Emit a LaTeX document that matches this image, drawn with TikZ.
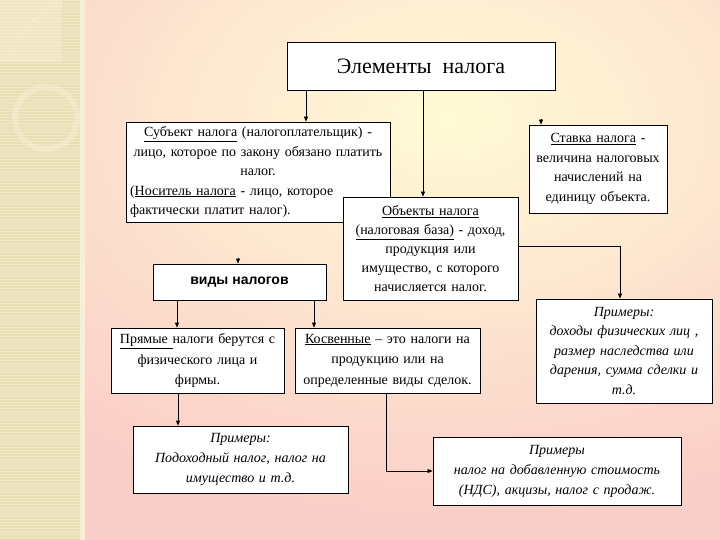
\documentclass[tikz,border=0pt]{standalone}
\usepackage{fontspec}
\setmainfont{Liberation Serif}
\setsansfont{Liberation Sans}
\usetikzlibrary{arrows.meta,calc}
\definecolor{bgpink}{RGB}{250,206,200}
\definecolor{bgyellow}{RGB}{255,251,214}
\definecolor{strip}{RGB}{234,222,182}
\definecolor{stripline}{RGB}{242,232,198}
\definecolor{stripwhite}{RGB}{248,240,214}
\tikzset{
  box/.style={draw=black, fill=white, line width=0.8pt, inner sep=0pt, align=center},
  txt/.style={font=\fontsize{14}{19.5}\selectfont},
  itx/.style={font=\fontsize{14}{19.5}\selectfont\itshape},
  arr/.style={draw=black, line width=0.8pt, -{Triangle[length=5pt,width=4pt]}}
}
\begin{document}
\begin{tikzpicture}[x=1pt,y=-1pt]
\useasboundingbox (0,0) rectangle (720,540);
% background
\fill[bgpink] (0,0) rectangle (720,540);
\begin{scope}
  \clip (84,0) rectangle (720,540);
  \shade[inner color=bgyellow, outer color=bgpink] (-150,-280) rectangle (1050,520);
\end{scope}
\fill[strip] (0,0) rectangle (80,540);
\foreach \yy in {0,3,...,540} {\draw[stripline, line width=0.6pt] (0,\yy) -- (80,\yy);}
\fill[stripwhite] (80,0) rectangle (85,540);
\fill[stripwhite, opacity=0.5] (0,0) rectangle (62,62);
\draw[stripwhite, line width=1.2pt, opacity=0.7] (5,60) .. controls (20,30) and (40,10) .. (62,2);
\draw[stripwhite, line width=6pt, opacity=0.55] (46,118) circle (31);
% boxes
\node[box, minimum width=268, minimum height=48, font=\fontsize{22}{24}\selectfont] (title) at (421,66) {Элементы\ \ налога};
\node[box, txt, minimum width=264, minimum height=100, text width=256, align=left] (subj) at (258,172)
  {{\centering \underline{Субъект налога} (налогоплательщик) -\\ лицо, которое по закону обязано платить\\ налог.\par}
   (\underline{Носитель налога} - лицо, которое\\ фактически платит налог).};
\node[box, txt, minimum width=138, minimum height=88, text width=134] (stav) at (598,169)
  {\underline{Ставка налога} -\\ величина налоговых\\ начислений на\\ единицу объекта.};
\node[box, txt, minimum width=175, minimum height=103, text width=170, font=\fontsize{14}{19}\selectfont] (obj) at (430.5,248.5)
  {\underline{Объекты налога}\\ \underline{(налоговая база)} - доход,\\ продукция или\\ имущество, с которого\\ начисляется налог.};
\node[box, minimum width=173, minimum height=36, font=\sffamily\bfseries\fontsize{14}{16}\selectfont] (vid) at (239.5,282) {виды налогов};
\node[box, itx, minimum width=176, minimum height=104, text width=172] (pr1) at (624,351)
  {Примеры:\\ доходы физических лиц ,\\ размер наследства или\\ дарения, сумма сделки и\\ т.д.};
\node[box, txt, minimum width=173, minimum height=65, text width=169, font=\fontsize{14}{20.5}\selectfont] (pryam) at (197.5,360.5)
  {\underline{Прямые }налоги берутся с\\ физического лица и\\ фирмы.};
\node[box, txt, minimum width=185, minimum height=65, text width=181, font=\fontsize{14}{20.5}\selectfont] (kos) at (387.5,360.5)
  {\underline{Косвенные} – это налоги на\\ продукцию или на\\ определенные виды сделок.};
\node[box, itx, minimum width=215, minimum height=67, text width=211, font=\fontsize{14}{20}\selectfont\itshape] (pr2) at (240.5,459.5)
  {Примеры:\\ Подоходный налог, налог на\\ имущество и т.д.};
\node[box, itx, minimum width=248, minimum height=68, text width=244, font=\fontsize{14}{20}\selectfont\itshape] (pr3) at (557,471)
  {Примеры\\ налог на добавленную стоимость\\ (НДС), акцизы, налог с продаж.};
% connector helper coordinates
\coordinate (c306) at (306,0);
\coordinate (c423) at (423,0);
\coordinate (s1) at (541,119);
\coordinate (s2) at (238,258);
\coordinate (c177) at (177,0);
\coordinate (c314) at (314,0);
\coordinate (c178) at (178,0);
\coordinate (c386) at (386,0);
\coordinate (k1) at (620,246);
% connectors
\draw[arr] (title.south -| c306) -- (subj.north -| c306);
\draw[arr] (title.south -| c423) -- (obj.north -| c423);
\draw[arr] (s1) -- (stav.north -| s1);
\draw[arr] (s2) -- (vid.north -| s2);
\draw[arr] (obj.east |- k1) -| (pr1.north -| k1);
\draw[arr] (vid.south -| c177) -- (pryam.north -| c177);
\draw[arr] (vid.south -| c314) -- (kos.north -| c314);
\draw[arr] (pryam.south -| c178) -- (pr2.north -| c178);
\draw[arr] (kos.south -| c386) |- (pr3.west);
\end{tikzpicture}
\end{document}
